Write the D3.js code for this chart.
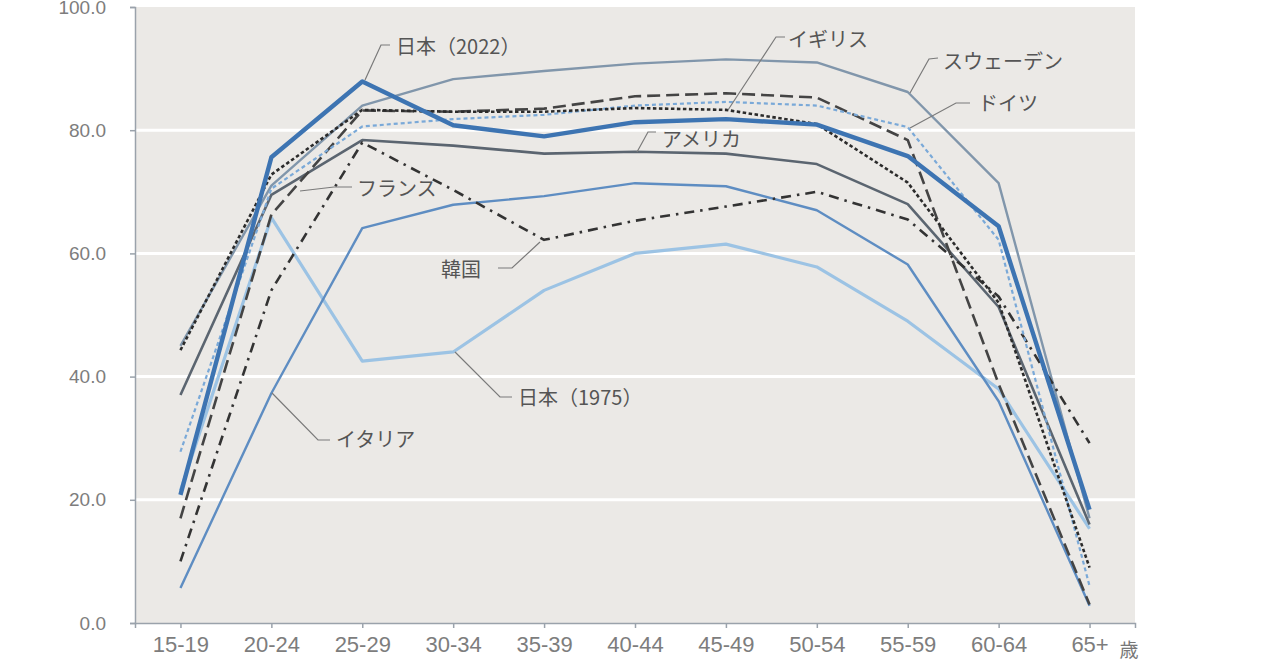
<!DOCTYPE html>
<html>
<head>
<meta charset="utf-8">
<script src="https://cdn.jsdelivr.net/npm/d3@7"></script>
<style>
  body { margin: 0; background: #ffffff; }
  svg { display: block; font-family: "Noto Sans", "Noto Sans CJK JP", sans-serif; }
</style>
</head>
<body>
<div id="chart"></div>
<script>
var ageGroups = ["15-19", "20-24", "25-29", "30-34", "35-39", "40-44", "45-49", "50-54", "55-59", "60-64", "65+"];
var yTicks = [0, 20, 40, 60, 80, 100];

var japan2022 = [20.8, 75.6, 87.9, 80.8, 79.0, 81.3, 81.8, 80.9, 75.8, 64.4, 18.4];
var japan1975 = [21.5, 65.8, 42.5, 44.0, 54.0, 60.0, 61.5, 57.8, 49.0, 38.0, 15.3];
var sweden = [45.0, 71.0, 84.0, 88.3, 89.6, 90.8, 91.5, 91.0, 86.2, 71.4, 17.0];
var germany = [27.8, 70.5, 80.6, 81.8, 82.5, 84.0, 84.6, 84.0, 80.5, 62.2, 6.0];
var uk = [44.3, 72.8, 83.3, 83.0, 83.0, 83.6, 83.3, 81.0, 71.5, 52.0, 9.0];
var france = [17.0, 66.3, 83.2, 83.0, 83.5, 85.5, 86.0, 85.3, 78.4, 38.8, 3.0];
var usa = [37.0, 69.5, 78.4, 77.5, 76.2, 76.5, 76.2, 74.5, 68.0, 51.3, 16.0];
var korea = [10.0, 54.0, 78.0, 70.3, 62.2, 65.3, 67.6, 70.0, 65.5, 53.0, 29.2];
var italy = [5.7, 37.3, 64.1, 67.9, 69.3, 71.4, 70.9, 67.0, 58.2, 36.0, 2.8];

var chartW = 1280, chartH = 671;
var plotLeft = 135, plotRight = 1135, plotTop = 7, plotBottom = 623;

var svg = d3.select("#chart")
    .append("svg")
        .attr("width", chartW)
        .attr("height", chartH);

var x = d3.scalePoint().domain(ageGroups).range([plotLeft, plotRight]).padding(0.5);
var y = d3.scaleLinear().domain([0, 100]).range([plotBottom, plotTop]);

// plot background + white grid
svg.append("rect")
    .attr("x", plotLeft)
    .attr("y", y(100))
    .attr("width", plotRight - plotLeft)
    .attr("height", y(0) - y(100))
    .attr("fill", "#ebe9e6");

svg.selectAll(".grid")
    .data(yTicks.filter(function(d) { return d > 0 && d < 100; }))
    .enter().append("line")
        .attr("x1", plotLeft)
        .attr("x2", plotRight)
        .attr("y1", function(d) { return y(d); })
        .attr("y2", function(d) { return y(d); })
        .attr("stroke", "#ffffff")
        .attr("stroke-width", 3);

// axes
var yAxis = svg.append("g")
    .attr("transform", "translate(" + plotLeft + ",0)")
    .call(d3.axisLeft(y).tickValues(yTicks).tickSize(5).tickPadding(24).tickFormat(d3.format(".1f")));
var xAxis = svg.append("g")
    .attr("transform", "translate(0," + plotBottom + ")")
    .call(d3.axisBottom(x).tickSize(5).tickPadding(14).tickSizeOuter(5));

[yAxis, xAxis].forEach(function(g) {
    g.selectAll("path, line").attr("stroke", "#9aa2ab").attr("stroke-width", 1.5);
    g.selectAll("text").attr("fill", "#7d7d7d");
});
yAxis.selectAll("text").attr("font-size", "19px");
xAxis.selectAll("text").attr("font-size", "22px").attr("y", 22).attr("dy", "0.32em");

svg.append("text")
    .attr("x", 1129)
    .attr("y", 650)
    .attr("dy", "0.35em")
    .attr("text-anchor", "middle")
    .attr("font-size", "19px")
    .attr("fill", "#777")
    .attr("font-family", "Noto Sans CJK JP")
    .text("歳");

// series
var series = [
    {name: "日本（1975）", values: japan1975, color: "#9cc3e4", width: 3.2, dash: null},
    {name: "イタリア", values: italy, color: "#5e8dc2", width: 2.4, dash: null},
    {name: "スウェーデン", values: sweden, color: "#8196ab", width: 2.4, dash: null},
    {name: "アメリカ", values: usa, color: "#5b6570", width: 2.6, dash: null},
    {name: "韓国", values: korea, color: "#333", width: 2.6, dash: "10,6,2.5,6"},
    {name: "フランス", values: france, color: "#444", width: 2.6, dash: "13,6"},
    {name: "ドイツ", values: germany, color: "#7aa9d8", width: 2.2, dash: "4,3"},
    {name: "イギリス", values: uk, color: "#2b2b2b", width: 2.6, dash: "3.5,2.5"},
    {name: "日本（2022）", values: japan2022, color: "#3d74b2", width: 4.4, dash: null}
];

var line = d3.line()
    .x(function(d, i) { return x(ageGroups[i]); })
    .y(function(d) { return y(d); });

svg.selectAll(".series")
    .data(series)
    .enter().append("path")
        .attr("class", "series")
        .attr("d", function(d) { return line(d.values); })
        .attr("fill", "none")
        .attr("stroke", function(d) { return d.color; })
        .attr("stroke-width", function(d) { return d.width; })
        .attr("stroke-dasharray", function(d) { return d.dash; })
        .attr("stroke-linejoin", "round");

// labels with leader lines
var labels = [
    {text: "日本（2022）", tx: 396, ty: 47, pts: [[390, 45], [381, 45], [365, 80]]},
    {text: "イギリス", tx: 788, ty: 40, pts: [[785, 37], [776, 37], [728, 110]]},
    {text: "スウェーデン", tx: 943, ty: 62, pts: [[938, 58], [929, 59], [910, 93]]},
    {text: "ドイツ", tx: 978, ty: 104, pts: [[970, 103], [956, 103], [910, 128]]},
    {text: "アメリカ", tx: 662, ty: 140, pts: [[656, 132], [648, 132], [637, 152]]},
    {text: "フランス", tx: 357, ty: 189, pts: [[352, 187], [334, 187], [300, 191]]},
    {text: "韓国", tx: 441, ty: 270, pts: [[498, 268], [512, 268], [540, 242]]},
    {text: "日本（1975）", tx: 518, ty: 398, pts: [[512, 397], [500, 397], [455, 352]]},
    {text: "イタリア", tx: 336, ty: 440, pts: [[330, 440], [318, 440], [272, 393]]}
];

svg.selectAll(".leader")
    .data(labels)
    .enter().append("polyline")
        .attr("points", function(d) { return d.pts.map(function(p) { return p.join(","); }).join(" "); })
        .attr("fill", "none")
        .attr("stroke", "#7a7a7a")
        .attr("stroke-width", 1.2);

svg.selectAll(".label")
    .data(labels)
    .enter().append("text")
        .attr("x", function(d) { return d.tx; })
        .attr("y", function(d) { return d.ty; })
        .attr("dy", "0.36em")
        .attr("font-size", "20px")
        .attr("font-family", "Noto Sans CJK JP")
        .attr("fill", "#555")
        .text(function(d) { return d.text; });
</script>
</body>
</html>
